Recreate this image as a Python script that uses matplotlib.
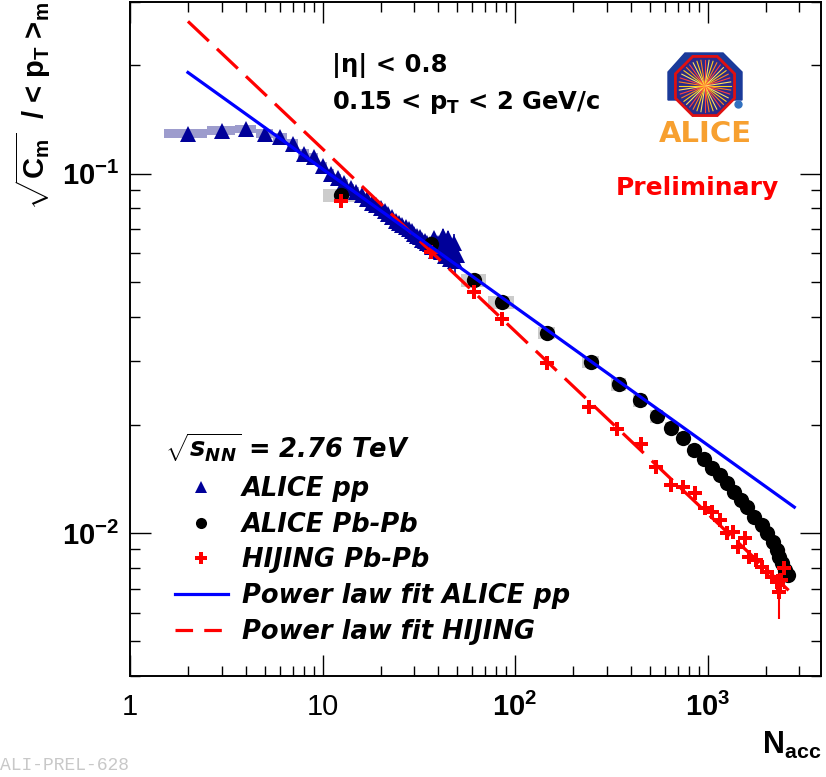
import matplotlib
matplotlib.use("Agg")
import matplotlib.pyplot as plt
import numpy as np
from matplotlib.patches import Polygon, RegularPolygon
from matplotlib.lines import Line2D

plt.rcParams['font.family'] = ['Liberation Sans', 'DejaVu Sans']
plt.rcParams['mathtext.fontset'] = 'custom'
plt.rcParams['mathtext.rm'] = 'Liberation Sans:bold'
plt.rcParams['mathtext.bf'] = 'Liberation Sans:bold'
plt.rcParams['mathtext.sf'] = 'DejaVu Sans:bold'
plt.rcParams['mathtext.it'] = 'DejaVu Sans:bold:italic'

# ALICE pp (triangles)
pp_n = [2, 3, 4, 5, 6, 7, 8, 9, 10, 11, 12, 13, 14, 15, 16, 17, 18, 19, 20, 21, 22, 23, 24, 25, 26,
        27, 28, 29, 30, 31, 32, 33, 34, 35, 36, 37, 38, 39, 40, 41, 42, 43, 44, 45, 46, 47, 48, 49, 50]
pp_val = [0.129, 0.1316, 0.133, 0.129, 0.126, 0.121, 0.1136, 0.111, 0.105, 0.100, 0.097, 0.094, 0.091,
          0.089, 0.087, 0.085, 0.083, 0.0815, 0.080, 0.0785, 0.077, 0.0755, 0.074, 0.073, 0.072, 0.071,
          0.070, 0.069, 0.068, 0.0672, 0.0665, 0.0655, 0.065, 0.064, 0.0635, 0.0625, 0.066, 0.061, 0.064,
          0.0605, 0.067, 0.059, 0.0625, 0.066, 0.058, 0.0605, 0.064, 0.057, 0.0595]
pp_err = [0.0005] * 32 + [0.001, 0.001, 0.0015, 0.002, 0.002, 0.002, 0.0025, 0.0025, 0.003, 0.003,
                           0.003, 0.003, 0.0035, 0.0035, 0.004, 0.004, 0.004]

# ALICE Pb-Pb (circles)
pbpb_n = [12.4, 36.7, 61.3, 85.7, 146.5, 248, 346, 444, 544, 643, 741, 845, 952, 1048, 1153, 1268,
          1379, 1499, 1610, 1750, 1905, 2022, 2173, 2279, 2361, 2448, 2537, 2600]
pbpb_val = [0.0869, 0.0636, 0.0504, 0.0438, 0.0360, 0.0299, 0.0259, 0.0234, 0.0211, 0.0196, 0.01837,
            0.01702, 0.01606, 0.01517, 0.01449, 0.01377, 0.0130, 0.01236, 0.0118, 0.01107, 0.01052,
            0.0100, 0.00944, 0.00897, 0.00858, 0.00826, 0.00789, 0.00764]
pbpb_sysx = [2.4, 5, 9, 13, 15, 25, 30, 35, 40, 45, 50, 55, 60, 60, 65, 70, 75, 80, 85, 90, 95, 100,
             105, 110, 115, 120, 125, 130]

# HIJING Pb-Pb (crosses)
hij_n = [12.4, 36.7, 61.3, 85.7, 146.5, 242, 340, 450, 538, 643, 741, 855, 965, 1048, 1153, 1254,
         1347, 1433, 1557, 1647, 1790, 1905, 2022, 2149, 2279, 2361, 2418, 2505]
hij_val = [0.0841, 0.0604, 0.0467, 0.0395, 0.0297, 0.0224, 0.01945, 0.01767, 0.0153, 0.0136, 0.0134,
           0.0129, 0.01173, 0.01143, 0.01086, 0.0100, 0.01007, 0.00915, 0.00969, 0.00858, 0.00841,
           0.00805, 0.0078, 0.00755, 0.00731, 0.00686, 0.0074, 0.0080]
hij_err = [0.0002] * 24 + [0.0004, 0.0011, 0.0006, 0.0010]

# power law fits (straight lines on log-log, end points)
fit_pp_x = [2, 2820]
fit_pp_y = [0.191, 0.0118]
fit_hij_x = [2, 2860]
fit_hij_y = [0.265, 0.00664]

fig = plt.figure(figsize=(8.26, 7.77), dpi=100)
ax = fig.add_axes([130 / 826, 1 - 676 / 777, 691 / 826, 674 / 777])
ax.set_xscale('log')
ax.set_yscale('log')

# systematic boxes
pp_n_a = np.array(pp_n, float)
pp_val_a = np.array(pp_val)
ax.bar(pp_n_a, 2 * 0.028 * pp_val_a, bottom=pp_val_a * 0.972, width=1.0, color='#9d9ccd',
       edgecolor='none', zorder=1)
pb_val_a = np.array(pbpb_val)
ax.bar(pbpb_n, 2 * 0.04 * pb_val_a, bottom=pb_val_a * 0.96, width=2 * np.array(pbpb_sysx),
       color='#cccccc', edgecolor='none', zorder=1)

# fits
ax.plot(fit_pp_x, fit_pp_y, color='#0000ff', lw=2.3, zorder=5)
ax.plot(fit_hij_x, fit_hij_y, color='#ff0000', lw=2.3, dashes=(9, 3.5), zorder=4)

# data
ax.errorbar(pp_n, pp_val, yerr=pp_err, fmt='^', color='#000099', ms=11, mew=0,
            elinewidth=1.2, capsize=2, zorder=3)
ax.errorbar(pbpb_n, pbpb_val, fmt='o', color='black', ms=11, mew=0, zorder=3)
ax.errorbar(hij_n, hij_val, yerr=hij_err, fmt='P', color='#ff0000', ms=10.5, mew=0,
            elinewidth=1.5, capsize=3, zorder=3)

ax.set_xlim(1, 3880)
ax.set_ylim(0.004, 0.3)

ax.set_xticks([1, 10, 100, 1000], ['1', '10', '$10^{2}$', '$10^{3}$'])
ax.set_yticks([0.01, 0.1], ['$10^{-2}$', '$10^{-1}$'])
ax.xaxis.set_minor_locator(matplotlib.ticker.LogLocator(base=10, subs=np.arange(2, 10)))
ax.yaxis.set_minor_locator(matplotlib.ticker.LogLocator(base=10, subs=np.arange(2, 10)))
ax.xaxis.set_minor_formatter(matplotlib.ticker.NullFormatter())
ax.yaxis.set_minor_formatter(matplotlib.ticker.NullFormatter())
ax.tick_params(which='both', direction='in', top=True, right=True, width=1.0, color='black')
ax.tick_params(axis='x', which='major', length=15, pad=12, labelsize=21)
ax.tick_params(axis='x', which='minor', length=7.5)
ax.tick_params(axis='y', which='major', length=15, pad=8, labelsize=21)
ax.tick_params(axis='y', which='minor', length=7.5)
for s in ax.spines.values():
    s.set_linewidth(1.4)

ax.set_ylabel(r'$\sqrt{\mathrm{C_m}}$  / < $\mathrm{p_T}$ >$_\mathrm{m}$', fontsize=21,
              fontweight='bold', loc='top', labelpad=6)
ax.set_xlabel(r'$\mathrm{N_{acc}}$', fontsize=22, loc='right', labelpad=6)

# texts
fig.text(332 / 826, 1 - 65 / 777, '|η| < 0.8', fontsize=17.5, fontweight='bold',
         family='DejaVu Sans', va='center')
fig.text(332 / 826, 1 - 103 / 777, r'0.15 < $\mathsf{p_T}$ < 2 GeV/c', fontsize=17.5,
         fontweight='bold', family='DejaVu Sans', va='center')
fig.text(697 / 826, 1 - 188 / 777, 'Preliminary', fontsize=18, fontweight='bold',
         family='DejaVu Sans', color='#ff0000', ha='center', va='center')
fig.text(0.0, 1 - 765 / 777, 'ALI-PREL-628', fontsize=13, family='Liberation Mono',
         color='#c8c8c8', va='center')

# legend
fig.text(165 / 826, 1 - 448 / 777, r'$\sqrt{s_{NN}}$ = 2.76 TeV', fontsize=18.5,
         fontweight='bold', style='italic', family='DejaVu Sans', va='center')
handles = [Line2D([], [], ls='none', marker='^', ms=8, mew=0, color='#000099'),
           Line2D([], [], ls='none', marker='o', ms=8, mew=0, color='black'),
           Line2D([], [], ls='none', marker='P', ms=8, mew=0, color='#ff0000'),
           Line2D([], [], color='#0000ff', lw=2.3),
           Line2D([], [], color='#ff0000', lw=2.3, dashes=(5.5, 3.5))]
labels = ['ALICE pp', 'ALICE Pb-Pb', 'HIJING Pb-Pb', 'Power law fit ALICE pp',
          'Power law fit HIJING']
ax.legend(handles, labels,
          prop={'size': 18.5, 'weight': 'bold', 'style': 'italic', 'family': 'DejaVu Sans'},
          loc='upper left', bbox_to_anchor=(175 / 826, 1 - 476 / 777),
          bbox_transform=fig.transFigure, frameon=False, handlelength=2.06,
          handletextpad=0.55, labelspacing=0.375, borderpad=0, borderaxespad=0)

# ALICE logo
lax = fig.add_axes([650 / 826, 1 - 150 / 777, 110 / 826, 102 / 777])
lax.set_xlim(650, 760)
lax.set_ylim(150, 48)
lax.axis('off')
lax.add_patch(Polygon([[668, 100], [668, 72], [685, 53], [723, 53], [742, 72], [742, 100]],
                      closed=True, color='#1a3a9a'))
lax.add_patch(RegularPolygon((705, 86), 8, radius=32, orientation=np.pi / 8,
                             facecolor='#2a2a8a', edgecolor='#e01010', lw=2))
ang = np.linspace(0, 2 * np.pi, 40, endpoint=False)
cols = ['#ffd020', '#ff8020', '#ff4040', '#ffe060']
for i, a in enumerate(ang):
    lax.plot([705, 705 + 26 * np.cos(a)], [86, 86 + 26 * np.sin(a)], color=cols[i % 4], lw=0.8)
lax.plot([738], [104], marker='o', ms=5, color='#3070c0')
lax.text(705, 134, 'ALICE', color='#f7a030', fontsize=21, fontweight='bold',
         family='DejaVu Sans', ha='center', va='center')

fig.savefig('out.png', dpi=100)
